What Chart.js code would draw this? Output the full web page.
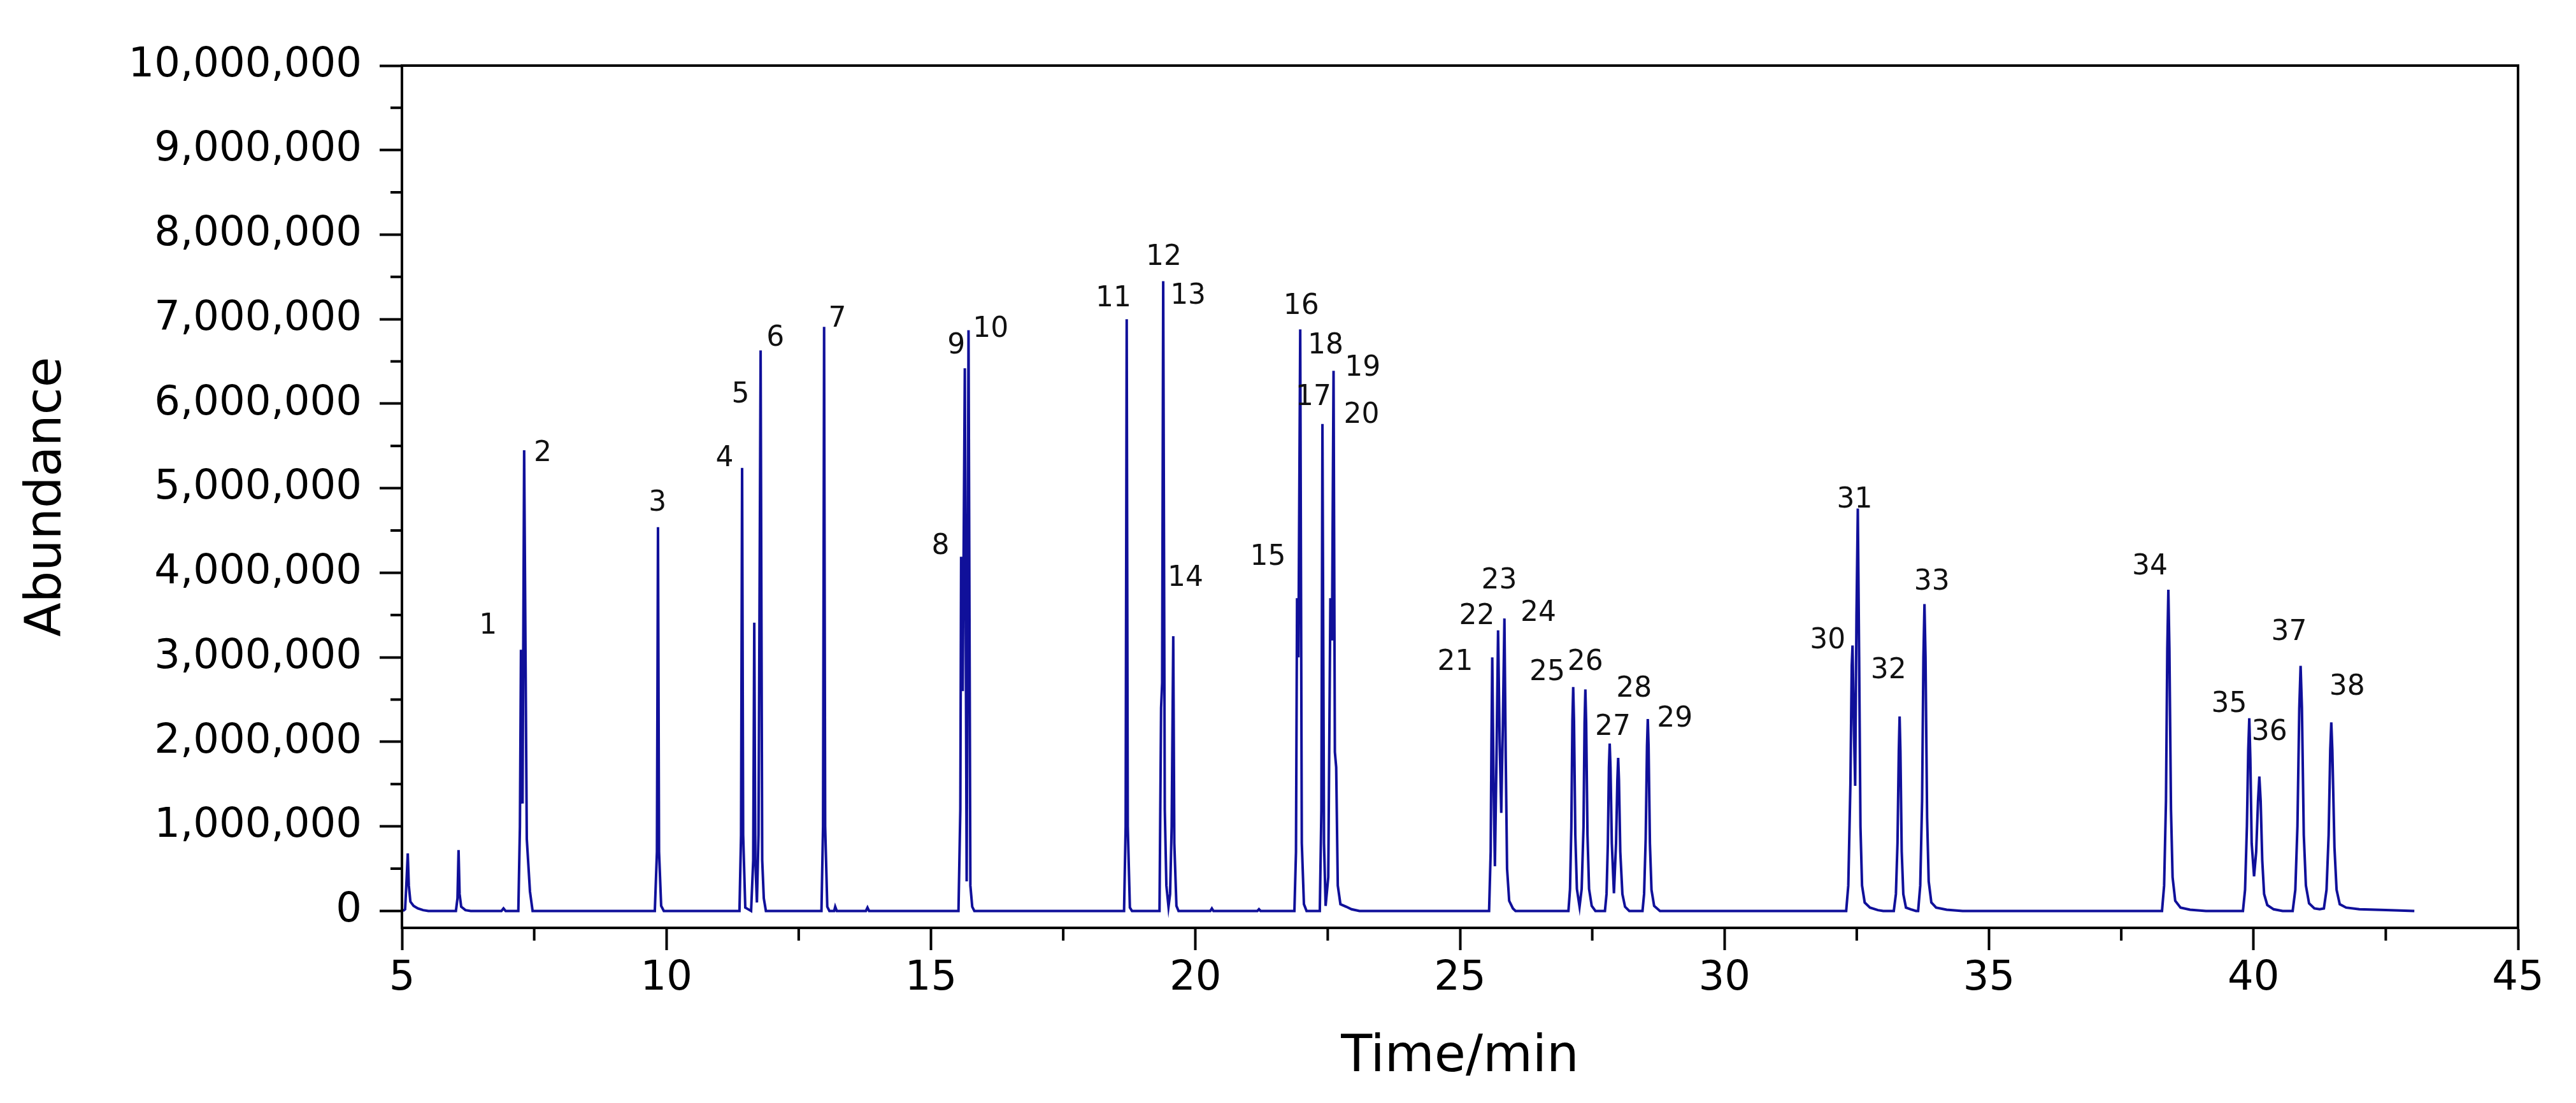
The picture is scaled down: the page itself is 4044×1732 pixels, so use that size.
<!DOCTYPE html>
<html>
<head>
<meta charset="utf-8">
<title>Chromatogram</title>
<script src="https://cdn.jsdelivr.net/npm/chart.js@4.4.1/dist/chart.umd.min.js"></script>
<style>
  html, body { margin: 0; padding: 0; background: #fff; }
  #wrap { width: 4044px; height: 1732px; position: relative; }
</style>
</head>
<body>
<div id="wrap"><canvas id="chart"></canvas></div>
<script>
const rtMin = [
  5.02, 5.06, 5.09, 5.11, 5.13, 5.16, 5.22, 5.30, 5.40, 5.50,
  6.02, 6.05, 6.07, 6.09, 6.12, 6.20, 6.30,
  6.88, 6.92, 6.96,
  7.20, 7.23, 7.25, 7.28, 7.31, 7.36, 7.42, 7.47,
  9.78, 9.82, 9.84, 9.86, 9.90, 9.95,
  11.38, 11.41, 11.43, 11.45, 11.49, 11.60, 11.64, 11.66, 11.68, 11.71, 11.74, 11.78, 11.81, 11.84, 11.88,
  12.93, 12.96, 12.98, 13.00, 13.04, 13.08, 13.17, 13.19, 13.22, 13.77, 13.80, 13.83,
  15.52, 15.555, 15.57, 15.60, 15.64, 15.675, 15.71, 15.745, 15.78, 15.82,
  18.65, 18.68, 18.70, 18.72, 18.76, 18.80,
  19.32, 19.35, 19.37, 19.39, 19.42, 19.45, 19.49, 19.52, 19.55, 19.58, 19.60, 19.64, 19.68,
  20.28, 20.31, 20.34, 21.17, 21.20, 21.23,
  21.87, 21.90, 21.92, 21.945, 21.98, 22.01, 22.05, 22.10,
  22.35, 22.38, 22.40, 22.43, 22.46, 22.51, 22.55, 22.58, 22.61, 22.635, 22.66, 22.69, 22.74, 22.85, 22.95, 23.10,
  25.55, 25.58, 25.595, 25.61, 25.635, 25.66, 25.69, 25.72, 25.75, 25.78, 25.81, 25.84, 25.865, 25.89, 25.93, 26.00, 26.05,
  27.05, 27.08, 27.105, 27.125, 27.14, 27.155, 27.18, 27.21, 27.26,
  27.30, 27.335, 27.355, 27.37, 27.385, 27.41, 27.44, 27.49, 27.56,
  27.74, 27.77, 27.795, 27.815, 27.83, 27.845, 27.87, 27.91, 27.95, 27.975, 27.99, 28.005, 28.03, 28.07, 28.12, 28.20,
  28.45, 28.48, 28.51, 28.535, 28.55, 28.565, 28.59, 28.62, 28.67, 28.78,
  32.30, 32.34, 32.38, 32.405, 32.42, 32.445, 32.47, 32.495, 32.52, 32.545, 32.57, 32.60, 32.65, 32.75, 32.90, 33.00,
  33.20, 33.24, 33.27, 33.295, 33.31, 33.325, 33.35, 33.38, 33.43, 33.52, 33.62,
  33.66, 33.70, 33.735, 33.76, 33.78, 33.80, 33.83, 33.86, 33.91, 34.00, 34.20, 34.50,
  38.27, 38.31, 38.345, 38.37, 38.39, 38.41, 38.44, 38.47, 38.52, 38.62, 38.80, 39.10,
  39.80, 39.84, 39.875, 39.90, 39.92, 39.94, 39.965, 40.01, 40.05, 40.085, 40.11, 40.135, 40.165, 40.20, 40.26, 40.38, 40.55,
  40.74, 40.79, 40.83, 40.865, 40.89, 40.915, 40.95, 40.99, 41.05, 41.15, 41.25,
  41.33, 41.38, 41.42, 41.45, 41.47, 41.49, 41.53, 41.57, 41.63, 41.75, 42.00, 42.50, 43.04
];
const abundance = [
  0, 20000, 400000, 680000, 300000, 110000, 60000, 30000, 10000, 0,
  0, 150000, 720000, 200000, 50000, 10000, 0,
  0, 30000, 0,
  0, 1000000, 3090000, 1270000, 5450000, 850000, 230000, 0,
  0, 700000, 4540000, 700000, 60000, 0,
  0, 900000, 5240000, 900000, 40000, 0, 600000, 3410000, 600000, 100000, 900000, 6630000, 600000, 150000, 0,
  0, 1000000, 6910000, 1000000, 50000, 0, 0, 50000, 0, 0, 40000, 0,
  0, 1200000, 4190000, 2600000, 6420000, 350000, 6870000, 300000, 50000, 0,
  0, 1000000, 7000000, 1000000, 40000, 0,
  0, 2400000, 2700000, 7450000, 1200000, 300000, 50000, 200000, 1000000, 3250000, 800000, 60000, 0,
  0, 30000, 0, 0, 20000, 0,
  0, 700000, 3700000, 3000000, 6880000, 800000, 80000, 0,
  0, 1200000, 5760000, 800000, 60000, 400000, 3700000, 3200000, 6390000, 1880000, 1700000, 300000, 80000, 50000, 20000, 0,
  0, 700000, 2000000, 3000000, 1500000, 530000, 1800000, 3320000, 2000000, 1160000, 2200000, 3460000, 1800000, 500000, 120000, 30000, 0,
  0, 260000, 1000000, 2250000, 2650000, 2250000, 900000, 260000, 50000,
  260000, 1000000, 2230000, 2620000, 2230000, 900000, 260000, 60000, 0,
  0, 200000, 800000, 1700000, 1980000, 1700000, 800000, 210000, 800000, 1550000, 1810000, 1550000, 700000, 200000, 50000, 0,
  0, 200000, 850000, 1950000, 2270000, 1950000, 800000, 250000, 60000, 0,
  0, 300000, 1500000, 2900000, 3140000, 2200000, 1480000, 3500000, 4760000, 3000000, 1000000, 300000, 100000, 40000, 10000, 0,
  0, 200000, 800000, 1900000, 2300000, 1900000, 700000, 200000, 40000, 20000, 0,
  0, 300000, 1300000, 3000000, 3630000, 3000000, 1100000, 350000, 100000, 40000, 15000, 0,
  0, 300000, 1300000, 3100000, 3800000, 3100000, 1200000, 400000, 120000, 40000, 15000, 0,
  0, 250000, 1000000, 1900000, 2280000, 1800000, 800000, 410000, 700000, 1300000, 1590000, 1300000, 600000, 200000, 70000, 20000, 0,
  0, 250000, 1000000, 2400000, 2900000, 2400000, 900000, 300000, 90000, 30000, 20000,
  30000, 250000, 900000, 1900000, 2230000, 1900000, 750000, 250000, 80000, 40000, 20000, 10000, 0
];

// peak numbers and where their labels sit (time, abundance)
const peakLabels = ['1','2','3','4','5','6','7','8','9','10','11','12','13','14','15','16','17','18','19',
  '20','21','22','23','24','25','26','27','28','29','30','31','32','33','34','35','36','37','38'];
const labelTime = [6.63, 7.66, 9.83, 11.10, 11.40, 12.06, 13.23, 15.18, 15.48, 16.13, 18.45, 19.40, 19.86,
  19.81, 21.37, 22.00, 22.23, 22.46, 23.16, 23.14, 24.91, 25.32, 25.74, 26.48, 26.65, 27.37, 27.89, 28.29,
  29.06, 31.95, 32.46, 33.10, 33.92, 38.04, 39.54, 40.30, 40.67, 41.77];
const labelAbund = [3370000, 5410000, 4820000, 5350000, 6100000, 6770000, 7000000, 4310000, 6680000, 6880000,
  7240000, 7730000, 7270000, 3930000, 4180000, 7150000, 6070000, 6680000, 6420000, 5860000, 2940000, 3480000,
  3900000, 3520000, 2820000, 2940000, 2170000, 2620000, 2270000, 3190000, 4860000, 2840000, 3890000, 4070000,
  2440000, 2110000, 3290000, 2640000];

// axis ticks
const yTicks = [0, 1000000, 2000000, 3000000, 4000000, 5000000, 6000000, 7000000, 8000000, 9000000, 10000000];
const yMinorTicks = [500000, 1500000, 2500000, 3500000, 4500000, 5500000, 6500000, 7500000, 8500000, 9500000];
const xMinorTicks = [7.5, 12.5, 17.5, 22.5, 27.5, 32.5, 37.5, 42.5];

const FONT = 'DejaVu Sans';

const framePlugin = {
  id: 'frame',
  afterDraw(chart) {
    const { ctx, chartArea: a, scales } = chart;
    ctx.save();
    ctx.strokeStyle = '#000';
    ctx.lineWidth = 4;
    ctx.strokeRect(a.left, a.top, a.right - a.left, a.bottom - a.top);
    // minor ticks
    ctx.beginPath();
    xMinorTicks.forEach(v => {
      const px = scales.x.getPixelForValue(v);
      ctx.moveTo(px, a.bottom);
      ctx.lineTo(px, a.bottom + 20);
    });
    yMinorTicks.forEach(v => {
      const py = scales.y.getPixelForValue(v);
      ctx.moveTo(a.left, py);
      ctx.lineTo(a.left - 18, py);
    });
    ctx.stroke();
    // peak numbers
    ctx.fillStyle = '#111';
    ctx.font = '44px "' + FONT + '"';
    ctx.textAlign = 'center';
    ctx.textBaseline = 'middle';
    peakLabels.forEach((t, i) => {
      ctx.fillText(t, scales.x.getPixelForValue(labelTime[i]), scales.y.getPixelForValue(labelAbund[i]));
    });
    ctx.restore();
  }
};

new Chart(document.getElementById('chart'), {
  type: 'line',
  data: {
    datasets: [{
      data: rtMin.map((t, i) => ({ x: t, y: abundance[i] })),
      borderColor: '#10109a',
      borderWidth: 4,
      pointRadius: 0,
      tension: 0,
      fill: false
    }]
  },
  options: {
    responsive: true,
    maintainAspectRatio: false,
    animation: false,
    layout: { padding: { left: 0, right: 91, top: 103, bottom: 0 } },
    plugins: { legend: { display: false }, tooltip: { enabled: false } },
    scales: {
      x: {
        type: 'linear',
        min: 5,
        max: 45,
        ticks: { stepSize: 5, color: '#000', font: { family: FONT, size: 64 }, padding: 7, maxRotation: 0 },
        grid: { drawOnChartArea: false, tickLength: 35, tickWidth: 4, tickColor: '#000' },
        border: { display: true, color: '#000', width: 4 },
        title: { display: true, text: 'Time/min', color: '#000', font: { family: FONT, size: 80 }, padding: { top: 0, bottom: 23 } },
        afterFit(scale) { scale.height = 275; }
      },
      y: {
        type: 'linear',
        min: -200000,
        max: 10000000,
        afterBuildTicks(scale) { scale.ticks = yTicks.map(v => ({ value: v })); },
        ticks: {
          color: '#000',
          font: { family: FONT, size: 64 },
          padding: 28,
          callback: v => Number(v).toLocaleString('en-US')
        },
        grid: { drawOnChartArea: false, tickLength: 35, tickWidth: 4, tickColor: '#000' },
        border: { display: true, color: '#000', width: 4 },
        title: { display: true, text: 'Abundance', color: '#000', font: { family: FONT, size: 78 }, padding: { top: 28, bottom: 0 } },
        afterFit(scale) { scale.width = 631; }
      }
    }
  },
  plugins: [framePlugin]
});
</script>
</body>
</html>
